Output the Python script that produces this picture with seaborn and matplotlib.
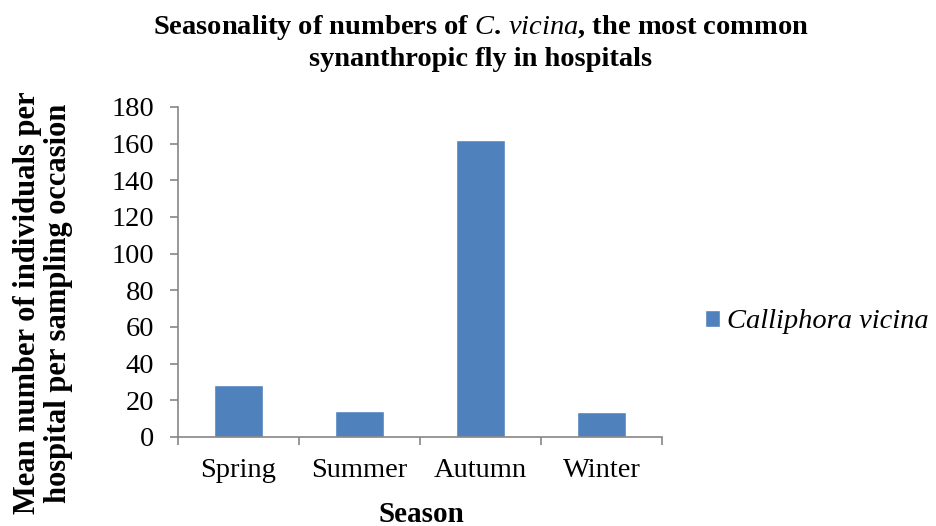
import matplotlib
matplotlib.use("Agg")
import matplotlib.pyplot as plt
import seaborn as sns
import pandas as pd
import numpy as np
from matplotlib.ticker import FixedLocator

# data
seasons = ["Spring", "Summer", "Autumn", "Winter"]
mean_counts = [28.5, 14, 162, 13.5]
series_name = "Calliphora vicina"
y_ticks = [0, 20, 40, 60, 80, 100, 120, 140, 160, 180]

BAR_COLOR = "#4f81bd"
AXIS_COLOR = "#868686"

sns.set_theme(style="white")
plt.rcParams['font.family'] = ['Liberation Serif', 'DejaVu Serif']
plt.rcParams['text.color'] = 'black'
plt.rcParams['xtick.labelcolor'] = 'black'
plt.rcParams['ytick.labelcolor'] = 'black'
plt.rcParams['mathtext.fontset'] = 'custom'
plt.rcParams['mathtext.rm'] = 'Liberation Serif:bold'
plt.rcParams['mathtext.it'] = 'Liberation Serif:italic'

df = pd.DataFrame({"Season": seasons, "Mean": mean_counts})

fig = plt.figure(figsize=(9.36, 5.26), dpi=100)
ax = fig.add_axes([178 / 936, 1 - 437 / 526, (662 - 178) / 936, (437 - 107) / 526])

sns.barplot(data=df, x="Season", y="Mean", color=BAR_COLOR, width=0.4,
            saturation=1, label=series_name, ax=ax)

ax.set_xlim(-0.5, 3.5)
ax.set_ylim(0, 180)
ax.set_yticks(y_ticks)
ax.set_xlabel("")
ax.set_ylabel("")

# Excel-style ticks: category boundaries as minor ticks
ax.xaxis.set_minor_locator(FixedLocator(np.arange(-0.5, 4, 1)))
ax.tick_params(axis='x', which='major', length=0, pad=15, labelsize=20.5)
ax.tick_params(axis='x', which='minor', length=6, width=1.2, color=AXIS_COLOR, direction='out', bottom=True)
ax.tick_params(axis='y', which='major', length=6, width=1.2, color=AXIS_COLOR, direction='out', left=True,
               pad=11, labelsize=20.5)

for side in ['top', 'right']:
    ax.spines[side].set_visible(False)
for side in ['left', 'bottom']:
    ax.spines[side].set_color(AXIS_COLOR)
    ax.spines[side].set_linewidth(1.2)

fig.text(481 / 936, 1 - 28 / 526,
         r"Seasonality of numbers of $\mathit{C.\,vicina}$, the most common",
         ha='center', va='center', fontsize=20.5, fontweight='bold')
fig.text(481 / 936, 1 - 60 / 526, "synanthropic fly in hospitals",
         ha='center', va='center', fontsize=20.5, fontweight='bold')

fig.text(43 / 936, 1 - 303 / 526,
         "Mean number of individuals per\nhospital per sampling occasion",
         rotation=90, ha='center', va='center', multialignment='center',
         fontsize=22, fontweight='bold', linespacing=1.1)
fig.text(421 / 936, 1 - 514 / 526, "Season", ha='center', va='center',
         fontsize=21, fontweight='bold')

leg = ax.legend(loc='center left', bbox_to_anchor=(679 / 936, 1 - 322 / 526),
                bbox_transform=fig.transFigure, frameon=False,
                handlelength=0.55, handleheight=0.55, handletextpad=0.25,
                prop={'style': 'italic', 'size': 20.5})

fig.savefig("out.png", dpi=100)
